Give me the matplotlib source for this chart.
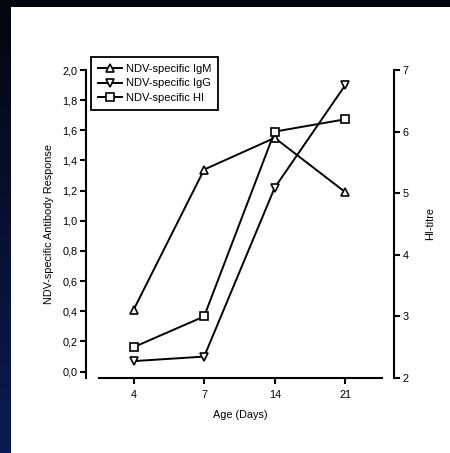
import numpy as np
import matplotlib
matplotlib.use("Agg")
import matplotlib.pyplot as plt
from matplotlib.ticker import FuncFormatter, FixedLocator

plt.rcParams['font.family'] = ['Liberation Sans', 'DejaVu Sans']

# Data
ages = ["4", "7", "14", "21"]
igm = [0.41, 1.34, 1.55, 1.19]
igg = [0.07, 0.10, 1.22, 1.90]
hi_titre = [2.5, 3.0, 6.0, 6.2]
left_ticks = [0.0, 0.2, 0.4, 0.6, 0.8, 1.0, 1.2, 1.4, 1.6, 1.8, 2.0]
right_ticks = [2, 3, 4, 5, 6, 7]

W, H = 450, 453
fig = plt.figure(figsize=(W / 100, H / 100), dpi=100)
fig.patch.set_facecolor("white")

# slide-style dark frame along the top and left edges
bg = np.ones((H, W, 3))
top_col = np.array([3, 6, 15]) / 255
bot_col = np.array([11, 27, 82]) / 255
t = np.linspace(0, 1, H)[:, None]
bg[:, :11, :] = (top_col * (1 - t) + bot_col * t)[:, None, :]
bg[:7, :, :] = top_col
bga = fig.add_axes([0, 0, 1, 1], zorder=-5)
bga.imshow(bg, aspect="auto", interpolation="bilinear")
bga.axis("off")

x = np.arange(len(ages))
ax = fig.add_axes([99 / W, 1 - 378 / H, 283 / W, 308 / H])
ax2 = ax.twinx()

lw = 1.4
mk = dict(markersize=5.5, markerfacecolor="white", markeredgecolor="black",
          markeredgewidth=1.2, color="black", linewidth=lw)
h1, = ax.plot(x, igm, marker="^", label="NDV-specific IgM", **mk)
h2, = ax.plot(x, igg, marker="v", label="NDV-specific IgG", **mk)
h3, = ax2.plot(x, hi_titre, marker="s", label="NDV-specific HI", **mk)

ax.set_xlim(-0.49, 3.52)
ax.set_ylim(-0.042, 2.0)
ax2.set_ylim(2, 7)
ax.set_xticks(x)
ax.set_xticklabels(ages)

ax.yaxis.set_major_locator(FixedLocator(left_ticks))
ax.yaxis.set_major_formatter(FuncFormatter(lambda v, p: f"{v:.1f}".replace(".", ",")))
ax2.yaxis.set_major_locator(FixedLocator(right_ticks))

for a in (ax, ax2):
    a.patch.set_visible(False)
    a.spines["top"].set_visible(False)
    for s in a.spines.values():
        s.set_linewidth(1.5)
ax.spines["right"].set_visible(False)
ax2.spines["left"].set_visible(False)
ax2.spines["bottom"].set_visible(False)
ax.spines["left"].set_position(("outward", 13 * 0.72))
ax2.spines["right"].set_position(("outward", 12 * 0.72))

fs = 7.8
ax.tick_params(axis="both", labelsize=fs, width=1.5, length=4, pad=2, colors="black")
ax.tick_params(axis="x", pad=5)
ax2.tick_params(axis="y", labelsize=fs, width=1.5, length=4, pad=2)

ax.set_xlabel("Age (Days)", fontsize=fs, labelpad=7)
ax.set_ylabel("NDV-specific Antibody Response", fontsize=fs, labelpad=6)
ax2.set_ylabel("HI-titre", fontsize=fs, labelpad=12)

leg = ax.legend(handles=[h1, h2, h3], loc="upper left",
                bbox_to_anchor=(-0.028, 1.042), borderaxespad=0,
                prop={"size": 8.0}, frameon=True, fancybox=False, framealpha=1,
                edgecolor="black", handlelength=2.2, handletextpad=0.35,
                labelspacing=0.42, borderpad=0.6)
leg.get_frame().set_linewidth(1.3)
leg.set_zorder(10)

fig.savefig("out.png", dpi=100)
